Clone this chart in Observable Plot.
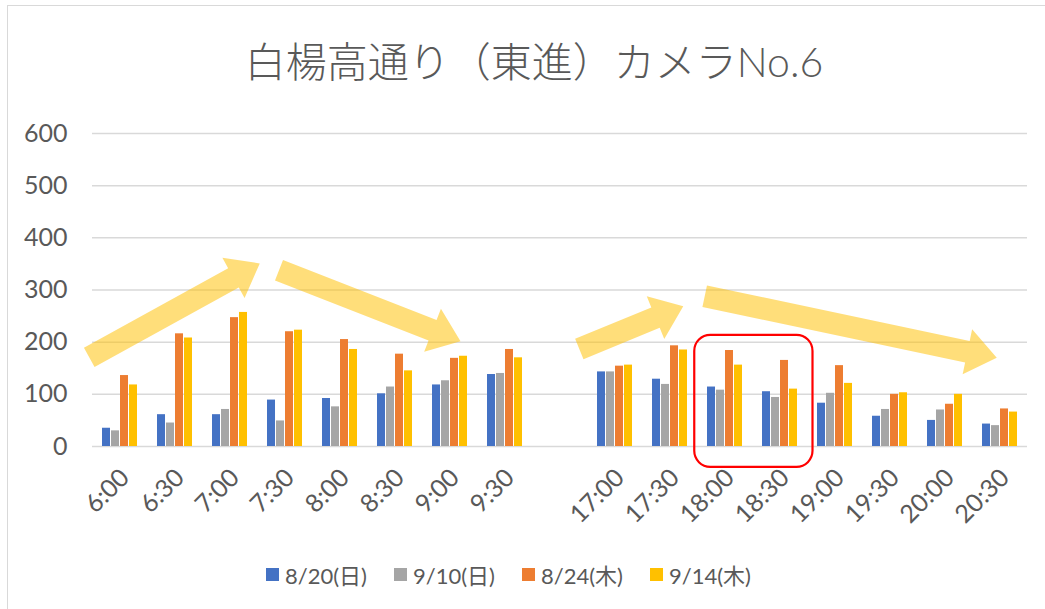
<!DOCTYPE html>
<html>
<head>
<meta charset="utf-8">
<script src="https://cdn.jsdelivr.net/npm/d3@7"></script>
<script src="https://cdn.jsdelivr.net/npm/@observablehq/plot@0.6"></script>
<style>
  html, body { margin: 0; padding: 0; background: #fff; }
  #wrap { position: relative; width: 1045px; height: 609px; overflow: hidden; background: #fff;
          font-family: Lato, "Noto Sans CJK JP", sans-serif; color: #595959; }
  #frame { position: absolute; left: 7px; top: 5px; width: 1200px; height: 800px; border: 1.5px solid #d9d9d9; }
  #title { position: absolute; top: 29px; left: 0; width: 1068px; text-align: center;
           font-family: Lato, "Noto Sans CJK JP", sans-serif; font-size: 41px; font-weight: 300; color: #595959; white-space: nowrap; }
  #chart { position: absolute; left: 0; top: 110px; }
  #legend { position: absolute; top: 558px; left: 266px; display: flex; align-items: center;
            font-size: 22px; color: #595959; white-space: nowrap; }
  .item { display: flex; align-items: center; margin-right: 27px; }
  .sw { width: 13px; height: 13px; margin-right: 6px; }
</style>
</head>
<body>
<div id="wrap">
  <div id="frame"></div>
  <div id="title"></div>
  <div id="chart"></div>
  <div id="legend"></div>
</div>
<script>
// ---- data ----
const titleText = "白楊高通り（東進）カメラNo.6";
const morningTimes = ["6:00","6:30","7:00","7:30","8:00","8:30","9:00","9:30"];
const eveningTimes = ["17:00","17:30","18:00","18:30","19:00","19:30","20:00","20:30"];
const gapLabel = " ";
const seriesNames = ["8/20(日)", "9/10(日)", "8/24(木)", "9/14(木)"];
const seriesColors = ["#4472C4", "#A5A5A5", "#ED7D31", "#FFC000"];
const values0820 = [35, 61, 61, 89, 92, 101, 118, 138, 143, 129, 114, 105, 83, 58, 50, 43];
const values0910 = [30, 45, 71, 49, 76, 114, 126, 140, 143, 119, 108, 94, 102, 71, 70, 40];
const values0824 = [136, 216, 247, 220, 205, 177, 169, 186, 154, 193, 184, 165, 155, 100, 81, 72];
const values0914 = [118, 208, 257, 223, 186, 145, 173, 170, 156, 185, 156, 110, 121, 103, 100, 66];
const yTicks = [0, 100, 200, 300, 400, 500, 600];
// annotation arrows: category + offset (in bands) + value
const arrowNotes = [
  {from: "6:00",  fromShift: -0.55, fromValue: 170, to: "7:00",  toShift: 0.55,  toValue: 350},
  {from: "7:30",  fromShift: -0.1,  fromValue: 337, to: "9:00",  toShift: 0.2,   toValue: 201},
  {from: "17:00", fromShift: -0.64, fromValue: 186, to: "17:30", toShift: 0.25,  toValue: 268},
  {from: "18:00", fromShift: -0.36, fromValue: 287, to: "20:30", toShift: -0.05, toValue: 169}
];
const highlightNote = {from: "18:00", fromShift: -0.55, to: "18:30", toShift: 0.6, top: 213, bottom: -40};

// ---- build table ----
const allTimes = morningTimes.concat(eveningTimes);
const domainTimes = morningTimes.concat([gapLabel], eveningTimes);
const seriesValues = [values0820, values0910, values0824, values0914];
const rows = [];
allTimes.forEach((t, i) => {
  seriesNames.forEach((s, k) => rows.push({time: t, series: s, value: seriesValues[k][i]}));
});

document.getElementById("title").textContent = titleText;

const chart = Plot.plot({
  width: 1045,
  height: 420,
  marginTop: 23,
  marginBottom: 84,
  marginLeft: 84,
  marginRight: 11,
  style: {fontFamily: 'Lato, "Noto Sans CJK JP", sans-serif', fontSize: "25px", color: "#595959", background: "transparent", overflow: "visible"},
  fx: {domain: domainTimes, padding: 0, label: null, axis: null},
  x: {domain: seriesNames, paddingInner: 0.15, paddingOuter: 0.86, axis: null},
  y: {domain: [0, 600], label: null, axis: null},
  color: {domain: seriesNames, range: seriesColors},
  marks: [
    Plot.ruleY(yTicks, {stroke: "#d9d9d9", strokeWidth: 1.5}),
    Plot.ruleY(yTicks, {stroke: "#d9d9d9", strokeWidth: 1.5, facetAnchor: "empty"}),
    Plot.axisY(yTicks, {facetAnchor: "left", tickSize: 0, tickPadding: 25, label: null, fontSize: 25}),
    Plot.axisFx({anchor: "bottom", tickRotate: -45, tickSize: 0, tickPadding: 27, dx: 5, label: null, fontSize: 25}),
    Plot.barY(rows, {fx: "time", x: "series", y: "value", fill: "series"})
  ]
});
document.getElementById("chart").appendChild(chart);

// ---- annotations through the plot's scales ----
const fx = chart.scale("fx");
const ys = chart.scale("y");
const cx = (t, shift) => fx.apply(t) + fx.bandwidth / 2 + shift * fx.step;
const svg = d3.select(chart);
const g = svg.append("g");
arrowNotes.forEach(a => {
  const x0 = cx(a.from, a.fromShift), y0 = ys.apply(a.fromValue);
  const x1 = cx(a.to, a.toShift), y1 = ys.apply(a.toValue);
  const len = Math.hypot(x1 - x0, y1 - y0);
  const ux = (x1 - x0) / len, uy = (y1 - y0) / len;
  const nx = -uy, ny = ux;
  const w = 11, hw = 23, hl = 30;
  const bx = x1 - ux * hl, by = y1 - uy * hl;
  const pts = [
    [x0 + nx * w, y0 + ny * w], [bx + nx * w, by + ny * w], [bx + nx * hw, by + ny * hw],
    [x1, y1],
    [bx - nx * hw, by - ny * hw], [bx - nx * w, by - ny * w], [x0 - nx * w, y0 - ny * w]
  ];
  g.append("path").attr("d", "M" + pts.map(p => p.join(",")).join("L") + "Z")
    .attr("fill", "#FFC000").attr("fill-opacity", 0.52);
});
{
  const h = highlightNote;
  const xa = cx(h.from, h.fromShift), xb = cx(h.to, h.toShift);
  const ya = ys.apply(h.top), yb = ys.apply(h.bottom);
  g.append("rect").attr("x", xa).attr("y", ya).attr("width", xb - xa).attr("height", yb - ya)
    .attr("rx", 16).attr("fill", "none").attr("stroke", "#FF0000").attr("stroke-width", 2.2);
}

// ---- legend ----
const legend = d3.select("#legend");
seriesNames.forEach((s, k) => {
  const it = legend.append("div").attr("class", "item");
  it.append("div").attr("class", "sw").style("background", seriesColors[k]);
  it.append("span").text(s);
});
</script>
</body>
</html>
